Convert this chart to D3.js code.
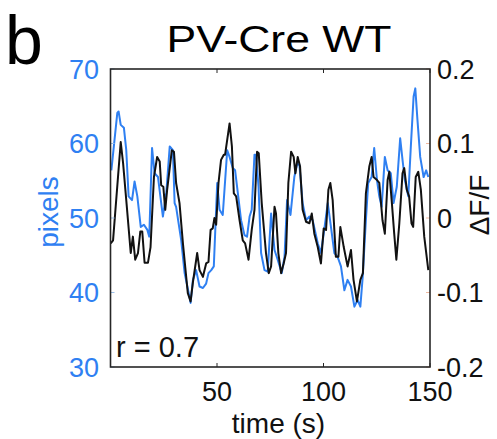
<!DOCTYPE html>
<html>
<head>
<meta charset="utf-8">
<script src="https://cdn.jsdelivr.net/npm/d3@7"></script>
<style>
  html, body { margin: 0; padding: 0; background: #fff; }
  svg { display: block; }
  text { font-family: "Liberation Sans", Arial, Helvetica, sans-serif; }
</style>
</head>
<body>
<svg id="chart" width="497" height="439"></svg>
<script>
// ---- data ----
const blueTime = [0.4,3.2,3.8,4.8,6.3,7.4,8.5,10.1,11.3,12.6,14.2,15.7,17.3,18.2,19.5,20.7,22.3,24.6,26.2,27.8,29.3,30.1,30.8,33.2,34.8,37.1,37.6,38.7,40.2,41.8,43.4,44.9,46.0,47.3,48.5,50.1,51.2,52.7,54.8,55.9,57.4,58.5,59.8,61.3,62.9,64.1,65.3,66.3,67.6,68.3,69.5,70.7,72.3,73.8,75.4,77.0,78.5,80.4,81.7,82.9,84.5,86.3,87.6,88.7,90.2,91.8,93.4,94.9,97.3,98.8,100.1,102.0,103.5,105.1,106.6,108.2,109.8,111.3,112.9,114.5,116.0,117.3,118.4,119.9,121.0,122.6,123.8,125.1,126.2,127.3,128.8,130.1,131.6,132.9,134.4,136.0,137.1,138.2,139.8,141.0,142.3,143.1,144.1,145.4,147.0,148.2,149.2];
const bluePixels = [56.4,64.1,64.3,62.5,62.1,59.1,52.9,52.4,54.9,52.9,48.8,49.1,48.4,47.5,59.4,56.0,55.5,50.2,53.4,59.6,59.1,52.0,51.5,47.0,42.6,39.4,38.6,41.7,43.0,40.8,40.6,41.2,42.6,43.0,43.5,54.7,51.1,50.4,59.1,58.2,56.7,56.4,53.3,49.7,47.7,47.5,50.2,51.1,58.5,58.5,54.2,45.3,43.0,42.8,50.6,45.7,44.4,42.6,44.8,52.4,50.4,55.5,57.3,57.1,52.0,49.7,50.2,49.7,46.6,45.3,47.9,52.0,48.8,45.3,44.8,43.5,40.3,41.7,40.8,38.1,39.0,38.1,42.1,49.7,54.7,55.5,59.4,55.1,52.9,51.5,58.2,56.4,56.0,52.0,54.2,60.7,57.8,55.1,52.9,59.6,66.3,67.4,63.2,58.2,55.5,56.4,55.5];

const blackTime = [0.1,1.2,4.8,5.9,7.4,9.5,10.5,11.6,12.9,14.0,14.9,16.0,17.6,18.8,20.4,21.9,23.1,23.8,24.8,25.7,26.6,28.8,29.8,30.8,32.4,34.0,36.3,37.6,38.7,40.7,41.8,43.4,44.9,46.0,47.0,48.0,48.8,49.6,50.7,51.9,53.2,53.8,55.9,57.0,57.9,59.0,60.6,62.1,63.2,64.8,66.3,67.6,68.8,69.6,71.0,73.0,74.3,75.4,77.0,77.7,78.8,80.1,81.3,82.4,83.5,84.8,86.0,86.8,87.9,89.0,90.2,91.8,93.4,94.5,95.7,97.3,98.8,100.1,101.2,102.3,103.2,104.3,105.8,107.0,107.9,109.5,111.3,112.9,114.1,115.7,117.3,118.5,119.9,121.5,122.6,123.5,125.1,126.2,127.7,128.8,130.1,130.9,132.0,133.2,134.2,135.6,137.1,137.9,139.1,140.2,141.3,142.1,143.3,144.5,145.7,147.3,149.2];
const blackDFF = [-0.034,-0.030,0.102,0.074,0.024,-0.047,-0.025,-0.056,-0.047,-0.018,-0.018,-0.060,-0.060,-0.039,0.055,0.082,0.076,0.044,0.042,0.011,0.038,0.091,0.089,0.047,0.020,-0.034,-0.101,-0.112,-0.086,-0.047,-0.070,-0.079,-0.061,-0.059,-0.016,-0.014,0.000,-0.009,0.047,0.078,0.085,0.085,0.127,0.096,0.033,0.029,-0.003,-0.030,-0.034,-0.056,-0.016,0.011,0.089,0.087,0.020,-0.047,-0.074,-0.065,0.015,0.006,-0.047,-0.074,-0.061,-0.047,0.047,0.089,0.082,0.060,0.082,0.069,0.011,-0.005,-0.007,0.006,-0.021,-0.039,-0.061,-0.014,-0.016,0.038,0.047,0.024,-0.052,-0.052,-0.012,-0.039,-0.065,-0.043,-0.083,-0.112,-0.083,-0.074,0.033,0.069,0.082,0.055,0.051,0.047,-0.003,-0.021,0.051,0.062,0.024,-0.021,-0.056,-0.007,0.060,0.067,0.038,0.029,-0.007,-0.012,0.055,0.062,0.038,-0.025,-0.070];

const xTicks = [50, 100, 150];
const leftTicks = [30, 40, 50, 60, 70];
const rightTicks = [-0.2, -0.1, 0, 0.1, 0.2];
const rightTickLabels = ["-0.2", "-0.1", "0", "0.1", "0.2"];

const panelLetter = "b";
const titleText = "PV-Cre WT";
const xLabel = "time (s)";
const leftLabel = "pixels";
const rightLabel = "ΔF/F";
const corrText = "r = 0.7";

// ---- layout ----
const BLUE = "#2f80f2";
const AXIS = "#262626";
const L = 110.5, R = 430, T = 69, B = 367;

const svg = d3.select("#chart");

const x = d3.scaleLinear().domain([0, 150]).range([L, R]);
const yL = d3.scaleLinear().domain([30, 70]).range([B, T]);
const yR = d3.scaleLinear().domain([-0.2, 0.2]).range([B, T]);

// lines
const blueData = blueTime.map((t, i) => [t, bluePixels[i]]);
const blackData = blackTime.map((t, i) => [t, blackDFF[i]]);

svg.append("path")
  .datum(blueData)
  .attr("fill", "none")
  .attr("stroke", BLUE)
  .attr("stroke-width", 2)
  .attr("stroke-linejoin", "round")
  .attr("d", d3.line().x(d => x(d[0])).y(d => yL(d[1])));

svg.append("path")
  .datum(blackData)
  .attr("fill", "none")
  .attr("stroke", "#111")
  .attr("stroke-width", 2)
  .attr("stroke-linejoin", "round")
  .attr("d", d3.line().x(d => x(d[0])).y(d => yR(d[1])));

// inner tick marks
const tickLen = 4;
const gTicks = svg.append("g");
xTicks.forEach(v => {
  gTicks.append("line").attr("x1", x(v)).attr("x2", x(v)).attr("y1", B).attr("y2", B - tickLen).attr("stroke", AXIS).attr("stroke-width", 1);
  gTicks.append("line").attr("x1", x(v)).attr("x2", x(v)).attr("y1", T).attr("y2", T + tickLen).attr("stroke", AXIS).attr("stroke-width", 1);
});
leftTicks.forEach(v => {
  gTicks.append("line").attr("x1", L).attr("x2", L + tickLen).attr("y1", yL(v)).attr("y2", yL(v)).attr("stroke", "#9bbfe8").attr("stroke-width", 1);
});
rightTicks.forEach(v => {
  gTicks.append("line").attr("x1", R).attr("x2", R - tickLen).attr("y1", yR(v)).attr("y2", yR(v)).attr("stroke", "#f0b9a0").attr("stroke-width", 1);
});

// box
svg.append("rect")
  .attr("x", L).attr("y", T).attr("width", R - L).attr("height", B - T)
  .attr("fill", "none").attr("stroke", AXIS).attr("stroke-width", 1.6);

// tick labels
const fs = 27;
svg.append("g").selectAll("text").data(xTicks).join("text")
  .attr("x", d => x(d)).attr("y", 401)
  .attr("text-anchor", "middle").attr("font-size", fs).attr("fill", "#111")
  .text(d => d);

svg.append("g").selectAll("text").data(leftTicks).join("text")
  .attr("x", 99).attr("y", d => yL(d)).attr("dy", "0.36em")
  .attr("text-anchor", "end").attr("font-size", fs).attr("fill", BLUE)
  .text(d => d);

svg.append("g").selectAll("text").data(rightTicks).join("text")
  .attr("x", 437).attr("y", d => yR(d)).attr("dy", "0.36em")
  .attr("text-anchor", "start").attr("font-size", fs).attr("fill", "#111")
  .text((d, i) => rightTickLabels[i]);

// labels
svg.append("text").attr("x", 278.5).attr("y", 433)
  .attr("text-anchor", "middle").attr("font-size", 28).attr("fill", "#111").text(xLabel);

svg.append("text").attr("transform", "translate(58,212) rotate(-90)")
  .attr("text-anchor", "middle").attr("font-size", 28).attr("fill", BLUE).text(leftLabel);

svg.append("text").attr("transform", "translate(489,205) rotate(-90)")
  .attr("text-anchor", "middle").attr("font-size", 28).attr("fill", "#111").text(rightLabel);

svg.append("text").attr("x", 116).attr("y", 356.5)
  .attr("font-size", 29).attr("fill", "#111").text(corrText);

svg.append("text").attr("x", 279).attr("y", 51.5)
  .attr("text-anchor", "middle").attr("font-size", 37).attr("fill", "#000")
  .attr("textLength", 225).attr("lengthAdjust", "spacingAndGlyphs")
  .text(titleText);

svg.append("text").attr("x", 5).attr("y", 64)
  .attr("font-size", 68).attr("fill", "#000")
  .text(panelLetter);
</script>
</body>
</html>
